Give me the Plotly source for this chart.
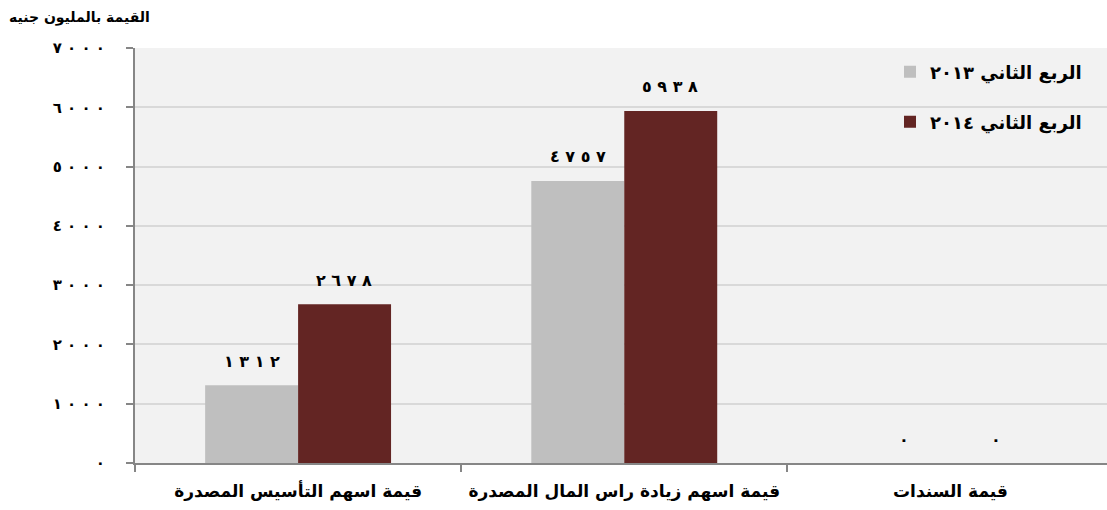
import plotly.graph_objects as go

categories = ["قيمة اسهم التأسيس المصدرة", "قيمة اسهم زيادة راس المال المصدرة", "قيمة السندات"]
series_names = ["الربع الثاني ٢٠١٣", "الربع الثاني ٢٠١٤"]
values_2013 = [1312, 4757, 0]
values_2014 = [2678, 5938, 0]
y_ticks = [0, 1000, 2000, 3000, 4000, 5000, 6000, 7000]
y_title = "القيمة بالمليون جنيه"

AR_DIGITS = "٠١٢٣٤٥٦٧٨٩"
NBSP = "\u00a0"


def to_ar(n):
    return NBSP.join(AR_DIGITS[int(c)] for c in str(n))


colors = ["#BFBFBF", "#632523"]
FONT = "DejaVu Sans"

fig = go.Figure()
series = [values_2013, values_2014]
legends = ["legend", "legend2"]
for i, (name, vals) in enumerate(zip(series_names, series)):
    fig.add_trace(go.Bar(
        x=categories, y=vals, name=name,
        marker=dict(color=colors[i], line=dict(width=0)),
        legend=legends[i],
        hoverinfo="skip",
    ))

# value labels
shifts = [-46, 46]
for i, vals in enumerate(series):
    for c, v in zip(categories, vals):
        fig.add_annotation(
            x=c, y=v, xref="x", yref="y", text=to_ar(v), showarrow=False,
            xshift=shifts[i], yshift=24, yanchor="middle", xanchor="center",
            font=dict(family=FONT, size=16, color="black", weight="bold"),
        )

fig.add_annotation(
    x=0, y=1, xref="paper", yref="paper", xanchor="left", yanchor="middle",
    xshift=-128, yshift=31, text=y_title, showarrow=False,
    font=dict(family=FONT, size=14, color="black", weight="bold"),
)

fig.update_layout(
    width=1107, height=510,
    margin=dict(l=135, r=0, t=48, b=47),
    paper_bgcolor="white", plot_bgcolor="#F2F2F2",
    barmode="group", bargap=0.43, bargroupgap=0,
    showlegend=True,
    legend=dict(x=(890 - 135) / 972, y=(463 - 72) / 415, xanchor="left", yanchor="middle",
                bgcolor="rgba(0,0,0,0)",
                font=dict(family=FONT, size=18, color="black", weight="bold")),
    legend2=dict(x=(890 - 135) / 972, y=(463 - 122) / 415, xanchor="left", yanchor="middle",
                 bgcolor="rgba(0,0,0,0)",
                 font=dict(family=FONT, size=18, color="black", weight="bold")),
    xaxis=dict(
        type="category", range=[-0.5, 2.48], tickson="boundaries",
        ticks="outside", ticklen=7, tickcolor="#868686", tickwidth=1.5,
        showline=True, linecolor="#868686", linewidth=2,
        showgrid=False, ticklabelstandoff=12,
        tickfont=dict(family=FONT, size=17, color="black", weight="bold"),
        fixedrange=True,
    ),
    yaxis=dict(
        range=[0, 7000], tickvals=y_ticks, ticktext=[to_ar(t) for t in y_ticks],
        ticks="outside", ticklen=7, tickcolor="#868686", tickwidth=1.5,
        showline=True, linecolor="#868686", linewidth=2,
        showgrid=True, gridcolor="#D9D9D9", gridwidth=1.5,
        zeroline=False, ticklabelstandoff=18,
        tickfont=dict(family=FONT, size=15, color="black", weight="bold"),
        fixedrange=True,
    ),
)

fig.write_html("out.html", config={"displayModeBar": False},
               post_script="document.body.style.margin='0';")
